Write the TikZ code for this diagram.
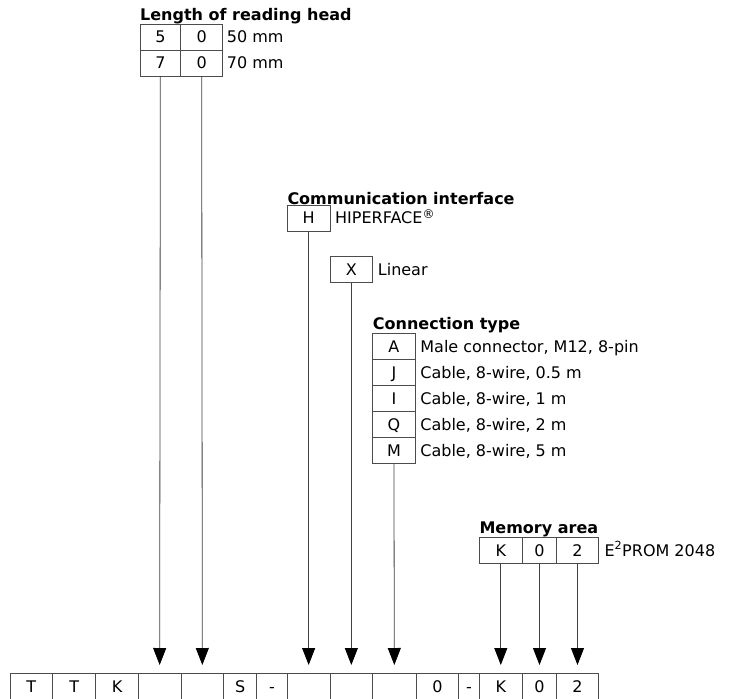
\documentclass[tikz,border=0pt]{standalone}
\usepackage{fontspec}
\setmainfont{DejaVu Sans}
\usetikzlibrary{positioning,arrows.meta}

\begin{document}
\begin{tikzpicture}[
  x=1pt, y=-1pt,
  font=\fontsize{16}{19}\selectfont,
  >={Triangle[width=13pt,length=17pt,black]},
  codecell/.style={draw=black!70, line width=0.8pt, inner sep=0pt, outer sep=0pt,
    text height=11.7pt, text depth=0pt, minimum width=#1, minimum height=26pt, anchor=north west},
  codetext/.style={inner sep=0pt, text height=11.7pt, text depth=0pt},
  grouphead/.style={inner sep=0pt, anchor=south west, font=\fontsize{16}{19}\selectfont\bfseries},
  pointer/.style={->, draw=black!75, line width=0.8pt, shorten >=8.5pt}
]
  \path[use as bounding box] (0,0) rectangle (740,699);
  \clip (0,0) rectangle (740,699);

  % length of reading head
  \node[codecell=40.7] (l5) at (140,24) {5};
  \node[codecell=42] (l0a) at (180.7,24) {0};
  \node[codetext, right=4pt of l0a] (l50) {50 mm};
  \node[codecell=40.7] (l7) at (140,50) {7};
  \node[codecell=42] (l0b) at (180.7,50) {0};
  \node[codetext, right=4pt of l0b] (l70) {70 mm};
  \node[grouphead] (lhead) at (l5.north west) {Length of reading head};

  % communication interface
  \node[codecell=42.7] (hc) at (287.3,205) {H};
  \node[codetext, right=5pt of hc] (hipf) {HIPERFACE\raisebox{5pt}{\fontsize{12}{12}\selectfont\textregistered}};
  \node[grouphead] (chead) at (hc.north west) {Communication interface};
  \node[codecell=42.7] (xc) at (330,256.7) {X};
  \node[codetext, right=5pt of xc] (lin) {Linear};

  % connection type
  \node[codecell=42.5] (ca) at (372.7,333.3) {A};
  \node[codecell=42.5] (cj) at (372.7,359.3) {J};
  \node[codecell=42.5] (ci) at (372.7,385.3) {I};
  \node[codecell=42.5] (cq) at (372.7,411.3) {Q};
  \node[codecell=42.5] (cm) at (372.7,437.3) {M};
  \node[codetext, right=5pt of ca] (ta) {Male connector, M12, 8-pin};
  \node[codetext, right=5pt of cj] (tj) {Cable, 8-wire, 0.5 m};
  \node[codetext, right=5pt of ci] (ti) {Cable, 8-wire, 1 m};
  \node[codetext, right=5pt of cq] (tq) {Cable, 8-wire, 2 m};
  \node[codetext, right=5pt of cm] (tm) {Cable, 8-wire, 5 m};
  \node[grouphead] (thead) at (ca.north west) {Connection type};

  % memory area
  \node[codecell=43] (mk) at (479.3,537.3) {K};
  \node[codecell=34.4] (m0) at (522.3,537.3) {0};
  \node[codecell=41.6] (m2) at (556.7,537.3) {2};
  \node[codetext, right=6pt of m2] (eprom) {E\textsuperscript{2}PROM 2048};
  \node[grouphead] (mhead) at (mk.north west) {Memory area};

  % type code row
  \foreach \n/\x/\w/\t in {1/10/42.7/T, 2/52.7/43/T, 3/95.7/42.6/K, 4/138.3/42.7/{},
      5/181/42.7/{}, 6/223.7/33/S, 7/256.7/30.6/-, 8/287.3/42.7/{}, 9/330/42.7/{},
      10/372.7/43.3/{}, 11/416/42.7/0, 12/458.7/20.6/-, 13/479.3/43/K,
      14/522.3/34.4/0, 15/556.7/41.6/2}
    \node[codecell=\w] (b\n) at (\x,673.5) {\t};

  \draw[pointer] (l7.south) -- (b4.north);
  \draw[pointer] (l0b.south) -- (b5.north);
  \draw[pointer] (hc.south) -- (b8.north);
  \draw[pointer] (xc.south) -- (b9.north);
  \draw[pointer] (cm.south) -- (b10.north);
  \draw[pointer] (mk.south) -- (b13.north);
  \draw[pointer] (m0.south) -- (b14.north);
  \draw[pointer] (m2.south) -- (b15.north);
\end{tikzpicture}
\end{document}
